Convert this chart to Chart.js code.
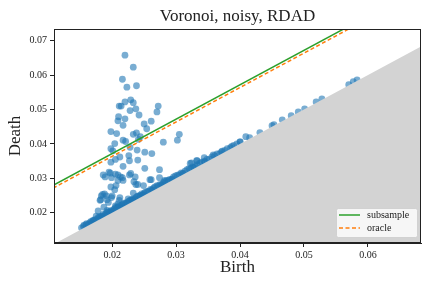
<!DOCTYPE html>
<html>
<head>
<meta charset="utf-8">
<script src="https://cdn.jsdelivr.net/npm/chart.js@4.4.1/dist/chart.umd.min.js"></script>
<style>
html,body{margin:0;padding:0;background:#fff;}
#wrap{width:432px;height:288px;position:relative;}
</style>
</head>
<body>
<div id="wrap"><canvas id="c" width="432" height="288"></canvas></div>
<script>
// ---- data ----
const chartTitle = "Voronoi, noisy, RDAD";
const xLabel = "Birth";
const yLabel = "Death";
const xTicks = [0.02, 0.03, 0.04, 0.05, 0.06];
const yTicks = [0.02, 0.03, 0.04, 0.05, 0.06, 0.07];
const xRange = [0.0109, 0.0683];
const yRange = [0.0112, 0.0734];
const seriesNames = ["subsample", "oracle"];
const bandOffsets = [0.0172, 0.0164];   // death = birth + offset

// off-diagonal points
const births = [
 0.0220,0.0233,0.0216,0.0223,0.0238,0.0220,0.0229,0.0233,0.0211,0.0214,0.0272,0.0270,0.0237,0.0228,0.0242,
 0.0210,0.0209,0.0220,0.0217,0.0261,0.0250,0.0254,0.0198,0.0207,0.0233,0.0238,0.0244,0.0305,0.0302,0.0280,
 0.0241,0.0217,0.0221,0.0204,0.0198,0.0201,0.0228,0.0239,0.0251,0.0262,0.0212,0.0226,0.0240,0.0198,0.0205,
 0.0227,0.0217,0.0251,0.0274,0.0186,0.0195,0.0205,0.0213,0.0229,0.0236,0.0209,0.0217,0.0234,0.0249,0.0261,
 0.0206,0.0198,0.0237,0.0188,0.0183,0.0200,0.0233,0.0181,0.0192,0.0211,0.0178,0.0187,0.0197,0.0189,0.0199,
 0.0209,0.0216,0.0227,0.0240,0.0259,0.0204,0.0185,0.0191,0.0182,0.0199,0.0194,0.0212,0.0209,0.0282,0.0274,
 0.0322,0.0332
];
const deaths = [
 0.0658,0.0623,0.0588,0.0565,0.0569,0.0522,0.0528,0.0520,0.0510,0.0510,0.0510,0.0493,0.0502,0.0497,0.0484,
 0.0479,0.0467,0.0473,0.0454,0.0466,0.0458,0.0444,0.0436,0.0430,0.0428,0.0432,0.0421,0.0428,0.0411,0.0405,
 0.0413,0.0411,0.0407,0.0401,0.0386,0.0380,0.0390,0.0382,0.0376,0.0372,0.0362,0.0366,0.0353,0.0347,0.0355,
 0.0351,0.0335,0.0329,0.0325,0.0310,0.0318,0.0312,0.0304,0.0314,0.0304,0.0294,0.0294,0.0290,0.0279,0.0296,
 0.0279,0.0275,0.0282,0.0255,0.0249,0.0249,0.0257,0.0236,0.0238,0.0236,0.0205,0.0216,0.0315,0.0304,0.0302,
 0.0310,0.0302,0.0310,0.0282,0.0296,0.0267,0.0253,0.0249,0.0238,0.0244,0.0230,0.0244,0.0226,0.0294,0.0302,
 0.0343,0.0351
];
// near-diagonal points
const diagBirths = [
 0.0155,0.0160,0.0165,0.0170,0.0173,0.0178,0.0182,0.0186,0.0190,0.0194,0.0198,0.0202,0.0206,0.0210,0.0214,
 0.0218,0.0222,0.0226,0.0230,0.0234,0.0238,0.0242,0.0246,0.0250,0.0255,0.0260,0.0265,0.0270,0.0275,0.0280,
 0.0285,0.0290,0.0296,0.0302,0.0308,0.0314,0.0320,0.0326,0.0333,0.0340,0.0348,0.0356,0.0364,0.0372,0.0380,
 0.0390,0.0400,0.0168,0.0185,0.0200,0.0215,0.0232,0.0248,0.0263,0.0278,0.0293,0.0310,0.0328,0.0345,0.0175,
 0.0192,0.0205,0.0225,0.0324,0.0333,0.0344,0.0358,0.0371,0.0387,0.0400,0.0409,0.0415,0.0431,0.0450,0.0453,
 0.0466,0.0480,0.0491,0.0501,0.0519,0.0528,0.0570,0.0577,0.0583,
 0.0152,0.0156,0.0159,0.0163,0.0167,0.0171,0.0176,0.0180,0.0184,0.0188,0.0192,0.0196,0.0200,0.0204,0.0208,
 0.0212,0.0216,0.0220,0.0224,0.0228,0.0232,0.0236,0.0240,0.0244,0.0248,0.0252,0.0257,0.0262,0.0267,0.0272,
 0.0277,0.0282,0.0288,0.0294,0.0299,0.0305,0.0311,0.0317,0.0323,0.0330,0.0337,0.0344,0.0352,0.0360,0.0368,
 0.0376,0.0385,0.0395
];
const diagDeaths = [
 0.0160,0.0168,0.0171,0.0178,0.0180,0.0186,0.0189,0.0195,0.0197,0.0203,0.0206,0.0209,0.0216,0.0218,0.0222,
 0.0228,0.0229,0.0234,0.0238,0.0241,0.0246,0.0249,0.0255,0.0257,0.0262,0.0268,0.0272,0.0279,0.0282,0.0287,
 0.0293,0.0297,0.0304,0.0309,0.0316,0.0321,0.0328,0.0333,0.0340,0.0347,0.0355,0.0362,0.0371,0.0379,0.0386,
 0.0396,0.0406,0.0171,0.0188,0.0203,0.0218,0.0235,0.0251,0.0266,0.0281,0.0296,0.0313,0.0331,0.0348,0.0190,
 0.0207,0.0220,0.0240,0.0345,0.0351,0.0360,0.0368,0.0377,0.0393,0.0406,0.0421,0.0418,0.0433,0.0453,0.0456,
 0.0470,0.0482,0.0493,0.0502,0.0522,0.0531,0.0572,0.0581,0.0586,
 0.0156,0.0164,0.0165,0.0167,0.0175,0.0177,0.0180,0.0188,0.0190,0.0192,0.0200,0.0202,0.0204,0.0212,0.0214,
 0.0216,0.0224,0.0226,0.0228,0.0236,0.0238,0.0240,0.0248,0.0250,0.0252,0.0260,0.0263,0.0266,0.0275,0.0278,
 0.0281,0.0290,0.0294,0.0298,0.0307,0.0311,0.0315,0.0325,0.0329,0.0334,0.0344,0.0349,0.0356,0.0366,0.0372,
 0.0381,0.0389,0.0400
];

// ---- build ----
const pts = births.map((b,i)=>({x:b,y:deaths[i]}))
  .concat(diagBirths.map((b,i)=>({x:b,y:diagDeaths[i]})));
const diagLine = [{x:0,y:0},{x:0.1,y:0.1}];
const bandLine = off => [{x:0,y:off},{x:0.1,y:0.1+off}];

const SERIF = '"Liberation Serif","DejaVu Serif",serif';

const framePlugin = {
  id:'frame',
  afterDraw(chart){
    const ctx = chart.ctx, a = chart.chartArea;
    ctx.save();
    ctx.strokeStyle = '#222';
    ctx.lineWidth = 1;
    ctx.strokeRect(Math.round(a.left)+0.5, Math.round(a.top)+0.5,
                   Math.round(a.right-a.left)-1, Math.round(a.bottom-a.top)-1);
    // titles
    ctx.fillStyle = '#222';
    ctx.textAlign = 'center';
    ctx.textBaseline = 'middle';
    ctx.font = '17px ' + SERIF;
    const cx = (a.left + a.right)/2;
    ctx.fillText(chartTitle, cx, 17);
    ctx.fillText(xLabel, cx, 268);
    ctx.save();
    ctx.translate(16, (a.top + a.bottom)/2);
    ctx.rotate(-Math.PI/2);
    ctx.fillText(yLabel, 0, 0);
    ctx.restore();
    // legend
    const lx = 336, ly = 208, lw = 81, lh = 29;
    ctx.fillStyle = 'rgba(255,255,255,0.8)';
    ctx.strokeStyle = 'rgba(204,204,204,0.8)';
    ctx.beginPath();
    if (ctx.roundRect) ctx.roundRect(lx+0.5, ly+0.5, lw, lh, 2); else ctx.rect(lx+0.5, ly+0.5, lw, lh);
    ctx.fill(); ctx.stroke();
    const rows = [
      {name: seriesNames[0], color:'#2ca02c', dash:[]},
      {name: seriesNames[1], color:'#ff7f0e', dash:[4,2.5]}
    ];
    rows.forEach((r,i)=>{
      const y = 215 + i*13;
      ctx.strokeStyle = r.color;
      ctx.lineWidth = 1.5;
      ctx.setLineDash(r.dash);
      ctx.beginPath(); ctx.moveTo(339, y); ctx.lineTo(360, y); ctx.stroke();
      ctx.setLineDash([]);
      ctx.fillStyle = '#222';
      ctx.textAlign = 'left';
      ctx.font = '10px ' + SERIF;
      ctx.fillText(r.name, 367, y);
    });
    ctx.restore();
  }
};

new Chart(document.getElementById('c'), {
  type: 'scatter',
  data: {
    datasets: [
      {label: seriesNames[0], type:'line', data: bandLine(bandOffsets[0]), borderColor:'#2ca02c',
       borderWidth:1.5, pointRadius:0, fill:false, order:0},
      {label: seriesNames[1], type:'line', data: bandLine(bandOffsets[1]), borderColor:'#ff7f0e',
       borderWidth:1.5, borderDash:[4,2.5], pointRadius:0, fill:false, order:0},
      {label:'diagonal', type:'line', data: diagLine, borderColor:'rgba(0,0,0,0)', borderWidth:0,
       backgroundColor:'#d3d3d3', pointRadius:0, fill:'start', order:1},
      {label:'points', data: pts, backgroundColor:'rgba(31,119,180,0.6)', borderWidth:0,
       pointRadius:3.4, pointHoverRadius:3.4, order:2}
    ]
  },
  options: {
    responsive:false,
    animation:false,
    events:[],
    layout:{padding:{top:29, right:11, left:0, bottom:0}},
    plugins:{legend:{display:false}, title:{display:false}, tooltip:{enabled:false}},
    scales:{
      x:{
        type:'linear', min:xRange[0], max:xRange[1],
        afterBuildTicks: s => { s.ticks = xTicks.map(v=>({value:v})); },
        afterFit: s => { s.height = 45; },
        ticks:{callback:v=>v.toFixed(2), font:{family:SERIF, size:10}, color:'#222', padding:2, maxRotation:0, autoSkip:false},
        grid:{drawOnChartArea:false, drawTicks:true, tickLength:4, tickColor:'#222', color:'#222'},
        border:{display:true, color:'#222', width:1}
      },
      y:{
        type:'linear', min:yRange[0], max:yRange[1],
        afterBuildTicks: s => { s.ticks = yTicks.map(v=>({value:v})); },
        afterFit: s => { s.width = 54; },
        ticks:{callback:v=>v.toFixed(2), font:{family:SERIF, size:10}, color:'#222', padding:3, autoSkip:false},
        grid:{drawOnChartArea:false, drawTicks:true, tickLength:4, tickColor:'#222', color:'#222'},
        border:{display:true, color:'#222', width:1}
      }
    }
  },
  plugins:[framePlugin]
});
</script>
</body>
</html>
